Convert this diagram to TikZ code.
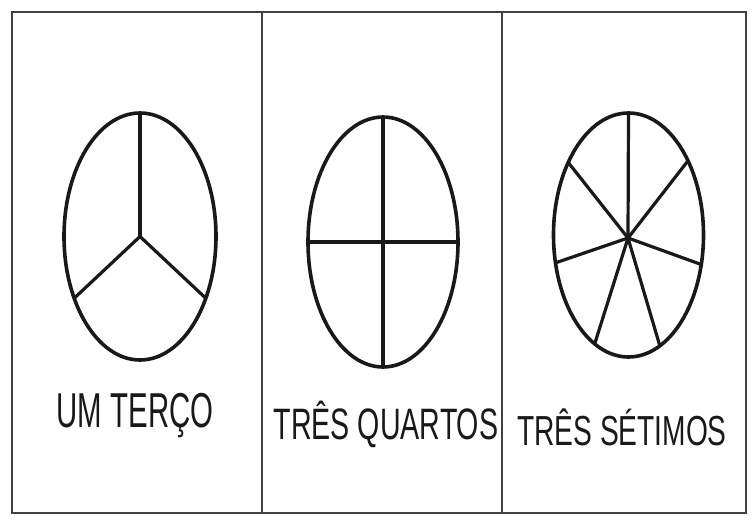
\documentclass[tikz,border=0pt]{standalone}
\usepackage{fontspec}
\setmainfont{Liberation Sans}
\usetikzlibrary{calc}
\begin{document}
\begin{tikzpicture}[x=1pt,y=-1pt,
  frame/.style={draw=black!75,line width=2.6pt},
  disc/.style={draw=black!90,line width=3.6pt},
  spoke/.style={draw=black!90,line width=3.2pt},
  lbl/.style={inner sep=0pt,text=black!90}]
\useasboundingbox (0,0) rectangle (753,520);
% table
\coordinate (tl) at (12,12);
\coordinate (br) at (746,513);
\draw[frame] (tl) rectangle (br);
\coordinate (d1t) at (262,12); \coordinate (d1b) at (262,513);
\coordinate (d2t) at (502,12); \coordinate (d2b) at (502,513);
\draw[frame] (d1t) -- (d1b);
\draw[frame] (d2t) -- (d2b);
% ellipse 1: one third
\coordinate (c1) at (140,236.5);
\draw[disc] (c1) ellipse [x radius=76, y radius=123.5];
\foreach \a in {270,30,150}
  \draw[spoke] (c1) -- ($(c1)+(\a:76 and 123.5)$);
% ellipse 2: quarters
\coordinate (c2) at (383,242);
\draw[disc] (c2) ellipse [x radius=75, y radius=125];
\draw[spoke] ($(c2)+(0,-125)$) -- ($(c2)+(0,125)$);
\draw[spoke] ($(c2)+(-75,0)$) -- ($(c2)+(75,0)$);
% ellipse 3: sevenths
\coordinate (c3) at (628.5,235);
\coordinate (h3) at (628,238);
\draw[disc] (c3) ellipse [x radius=75, y radius=122];
\foreach \a in {270,322.5,14,65.3,116.8,166.8,216.5}
  \draw[spoke] (h3) -- ($(c3)+(\a:75 and 122)$);
% labels
\node[lbl] (t1) at (135,416) {\scalebox{0.6}[1]{\fontsize{49}{49}\selectfont UM TERÇO}};
\node[lbl] (t2) at (386,424) {\scalebox{0.65}[1]{\fontsize{44}{44}\selectfont TRÊS QUARTOS}};
\node[lbl] (t3) at (622,427) {\scalebox{0.67}[1]{\fontsize{42}{42}\selectfont TRÊS SÉTIMOS}};
\end{tikzpicture}
\end{document}
